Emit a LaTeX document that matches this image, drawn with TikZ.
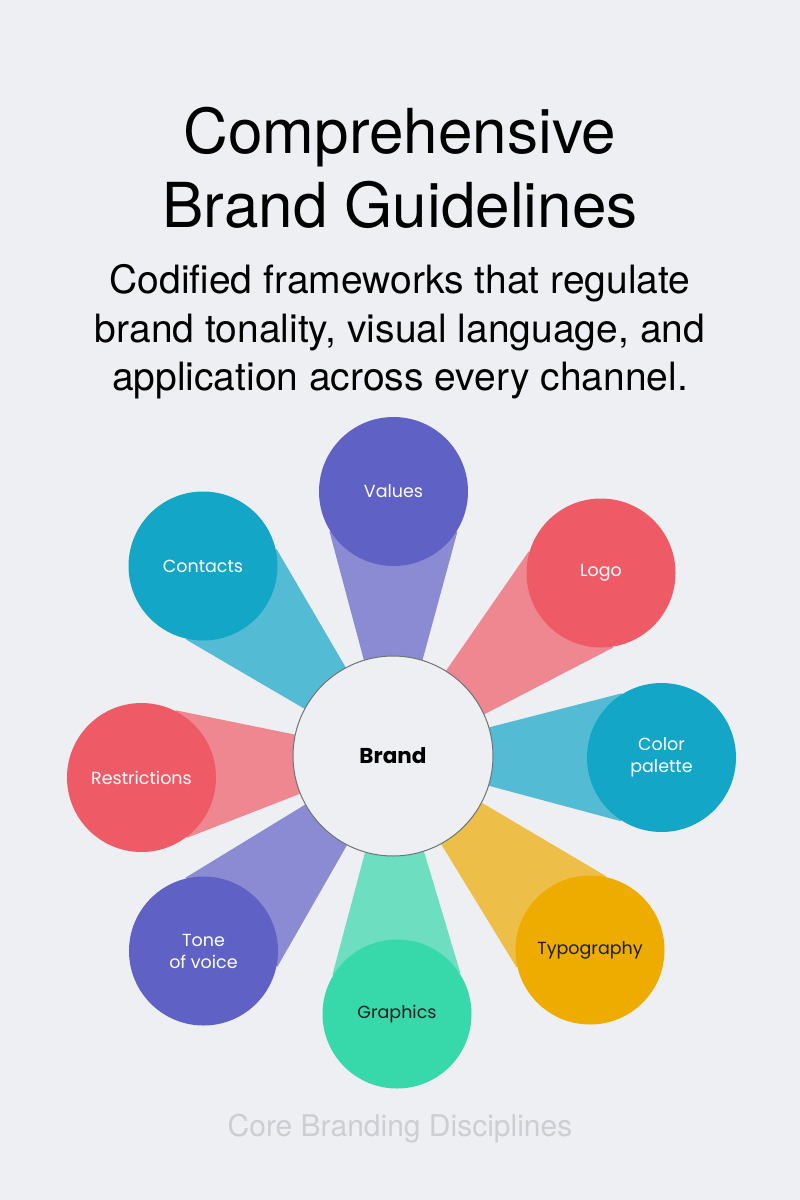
\documentclass[tikz,border=0pt]{standalone}
\usepackage{fontspec}
\setmainfont{TeX Gyre Heros}
\newfontfamily\bubblefont{Poppins}
\usetikzlibrary{calc}
\pgfdeclarelayer{back}
\pgfdeclarelayer{petals}
\pgfsetlayers{back,petals,main}
\definecolor{bg}{HTML}{EEEFF3}
\definecolor{cviolet}{HTML}{6061C5}
\definecolor{cred}{HTML}{EE5B67}
\definecolor{cteal}{HTML}{14A6C7}
\definecolor{cyellow}{HTML}{EEAB00}
\definecolor{cgreen}{HTML}{37D9AB}
\definecolor{rim}{HTML}{6E7377}
\definecolor{footgray}{HTML}{CDCED3}
\definecolor{ink}{HTML}{1E1E1E}
\tikzstyle{headline} = [font=\fontsize{62}{74}\selectfont, text=black, inner sep=0pt, anchor=base]
\tikzstyle{subline} = [font=\fontsize{39}{48}\selectfont, text=black, inner sep=0pt, anchor=base]
\tikzstyle{footer} = [font=\fontsize{30}{36}\selectfont, text=footgray, inner sep=0pt, anchor=base]
\tikzstyle{hub} = [circle, minimum size=200pt, inner sep=0pt, fill=bg, draw=rim, line width=1pt, font=\bubblefont\bfseries\fontsize{21.5}{26}\selectfont]
\tikzstyle{bubble} = [circle, minimum size=149pt, inner sep=0pt, align=center, font=\bubblefont\fontsize{17.5}{22}\selectfont]
\tikzstyle{petal} = [opacity=0.7]

\begin{document}
\begin{tikzpicture}[x=1pt, y=-1pt]
\begin{pgfonlayer}{back}
\fill[bg] (0,0) rectangle (800,1200);
\end{pgfonlayer}
\useasboundingbox (0,0) rectangle (800,1200);

\node (title1) [headline] at (400,153) {Comprehensive};
\node (title2) [headline] at (400,227) {Brand Guidelines};
\node (sub1) [subline] at (400,293) {Codified frameworks that regulate};
\node (sub2) [subline] at (400,342) {brand tonality, visual language, and};
\node (sub3) [subline] at (400,390) {application across every channel.};

\node (brand) [hub] at (393,756) {Brand};

% outer circles, clockwise from the top
\foreach \n/\x/\y/\c/\t/\txt in {values/393.5/491.5/cviolet/white/Values,
    logo/601/573/cred/white/Logo,
    palette/661.5/757.5/cteal/white/{Color\\palette},
    typo/590/950/cyellow/ink/Typography,
    graphics/397/1014/cgreen/ink/Graphics,
    tone/203.5/951/cviolet/white/{Tone\\of voice},
    restrict/141.5/777.5/cred/white/Restrictions,
    contacts/203/566/cteal/white/Contacts} {
  \node (\n) [bubble, fill=\c, text=\t] at (\x,\y) {\txt};
  \begin{pgfonlayer}{petals}
  \fill[\c, petal] ($(brand.center)!80pt!(\n.center)!25pt!90:(\n.center)$)
    -- ($(\n.center)!40pt!(brand.center)!64pt!-90:(brand.center)$)
    -- ($(\n.center)!40pt!(brand.center)!64pt!90:(brand.center)$)
    -- ($(brand.center)!80pt!(\n.center)!25pt!-90:(\n.center)$) -- cycle;
  \end{pgfonlayer}
}

\node (foot) [footer] at (400,1136) {Core Branding Disciplines};
\end{tikzpicture}
\end{document}
